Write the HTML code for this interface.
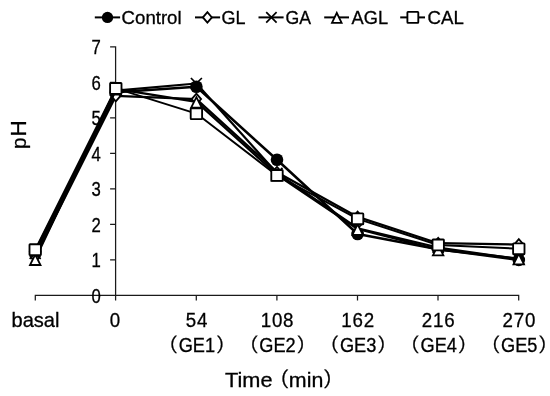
<!DOCTYPE html><html><head><meta charset="utf-8"><title>pH chart</title><style>html,body{margin:0;padding:0;background:#fff}svg{display:block}text{font-family:"Liberation Sans","IPAGothic",sans-serif;fill:#000;stroke:#000;stroke-width:0.3px}</style></head><body>
<svg width="550" height="396" viewBox="0 0 550 396">
<rect width="550" height="396" fill="#fff"/>
<path d="M34.699999999999996 295.4H519.3000000000001M35.3 295.4V300.4M115.6 295.4V300.4M196.3 295.4V300.4M276.9 295.4V300.4M357.5 295.4V300.4M438.0 295.4V300.4M518.7 295.4V300.4M115.6 46.3V300.4M110.1 295.4H115.6M110.1 259.9H115.6M110.1 224.4H115.6M110.1 188.9H115.6M110.1 153.4H115.6M110.1 117.9H115.6M110.1 82.4H115.6M110.1 46.9H115.6" stroke="#1a1a1a" stroke-width="1.25" fill="none"/>
<text transform="translate(91.40 302.5) scale(0.88 1.02)" font-size="19" letter-spacing="1.35">0</text>
<text transform="translate(91.40 267.0) scale(0.88 1.02)" font-size="19" letter-spacing="1.35">1</text>
<text transform="translate(91.40 231.5) scale(0.88 1.02)" font-size="19" letter-spacing="1.35">2</text>
<text transform="translate(91.40 196.0) scale(0.88 1.02)" font-size="19" letter-spacing="1.35">3</text>
<text transform="translate(91.40 160.5) scale(0.88 1.02)" font-size="19" letter-spacing="1.35">4</text>
<text transform="translate(91.40 125.0) scale(0.88 1.02)" font-size="19" letter-spacing="1.35">5</text>
<text transform="translate(91.40 89.5) scale(0.88 1.02)" font-size="19" letter-spacing="1.35">6</text>
<text transform="translate(91.40 54.0) scale(0.88 1.02)" font-size="19" letter-spacing="1.35">7</text>
<text x="35.5" y="326.5" font-size="20.4" text-anchor="middle" textLength="48" lengthAdjust="spacingAndGlyphs">basal</text>
<text transform="translate(109.79 326.6) scale(0.91 1.0)" font-size="20.6" letter-spacing="0.9">0</text>
<text transform="translate(185.66 326.6) scale(0.91 1.0)" font-size="20.6" letter-spacing="0.9">54</text>
<text transform="translate(260.64 326.6) scale(0.91 1.0)" font-size="20.6" letter-spacing="0.9">108</text>
<text transform="translate(341.24 326.6) scale(0.91 1.0)" font-size="20.6" letter-spacing="0.9">162</text>
<text transform="translate(421.84 326.6) scale(0.91 1.0)" font-size="20.6" letter-spacing="0.9">216</text>
<text transform="translate(502.44 326.6) scale(0.91 1.0)" font-size="20.6" letter-spacing="0.9">270</text>
<text y="352.4" font-size="19.4"><tspan x="158.8">（</tspan><tspan x="178.7" textLength="36.4" lengthAdjust="spacingAndGlyphs">GE1</tspan><tspan x="215.7">）</tspan></text>
<text y="352.4" font-size="19.4"><tspan x="239.4">（</tspan><tspan x="259.3" textLength="36.4" lengthAdjust="spacingAndGlyphs">GE2</tspan><tspan x="296.3">）</tspan></text>
<text y="352.4" font-size="19.4"><tspan x="320.0">（</tspan><tspan x="339.9" textLength="36.4" lengthAdjust="spacingAndGlyphs">GE3</tspan><tspan x="376.9">）</tspan></text>
<text y="352.4" font-size="19.4"><tspan x="400.6">（</tspan><tspan x="420.5" textLength="36.4" lengthAdjust="spacingAndGlyphs">GE4</tspan><tspan x="457.5">）</tspan></text>
<text y="352.4" font-size="19.4"><tspan x="481.2">（</tspan><tspan x="501.1" textLength="36.4" lengthAdjust="spacingAndGlyphs">GE5</tspan><tspan x="538.1">）</tspan></text>
<text y="387.2" font-size="20.6"><tspan x="225" textLength="47.5" lengthAdjust="spacingAndGlyphs">Time</tspan><tspan x="268"> </tspan><tspan x="269">（</tspan><tspan x="288.8" textLength="34.5" lengthAdjust="spacingAndGlyphs">min</tspan><tspan x="322.8">）</tspan></text>
<text transform="translate(26 149.0) rotate(-90)"><tspan font-size="20.5">p</tspan><tspan font-size="22.6" dx="1.0">H</tspan></text>
<polyline points="35.2,251.4 115.8,92.3 196.4,86.7 277.0,159.8 357.6,234.0 438.2,249.2 518.8,259.9" fill="none" stroke="#000" stroke-width="2.5" stroke-linejoin="round"/>
<circle cx="35.2" cy="251.4" r="6.3" fill="#000"/>
<circle cx="115.8" cy="92.3" r="6.3" fill="#000"/>
<circle cx="196.4" cy="86.7" r="6.3" fill="#000"/>
<circle cx="277.0" cy="159.8" r="6.3" fill="#000"/>
<circle cx="357.6" cy="234.0" r="6.3" fill="#000"/>
<circle cx="438.2" cy="249.2" r="6.3" fill="#000"/>
<circle cx="518.8" cy="259.9" r="6.3" fill="#000"/>
<polyline points="35.2,256.7 115.8,95.9 196.4,99.1 277.0,172.2 357.6,216.9 438.2,243.2 518.8,244.6" fill="none" stroke="#000" stroke-width="2.25" stroke-linejoin="round"/>
<path d="M30.5 256.7L35.2 251.2L39.9 256.7L35.2 262.2Z" fill="#fff" stroke="#000" stroke-width="1.8"/>
<path d="M111.1 95.9L115.8 90.4L120.5 95.9L115.8 101.3Z" fill="#fff" stroke="#000" stroke-width="1.8"/>
<path d="M191.7 99.1L196.4 93.6L201.1 99.1L196.4 104.5Z" fill="#fff" stroke="#000" stroke-width="1.8"/>
<path d="M272.3 172.2L277.0 166.8L281.7 172.2L277.0 177.7Z" fill="#fff" stroke="#000" stroke-width="1.8"/>
<path d="M352.9 216.9L357.6 211.5L362.3 216.9L357.6 222.4Z" fill="#fff" stroke="#000" stroke-width="1.8"/>
<path d="M433.5 243.2L438.2 237.8L442.9 243.2L438.2 248.7Z" fill="#fff" stroke="#000" stroke-width="1.8"/>
<path d="M514.1 244.6L518.8 239.2L523.5 244.6L518.8 250.1Z" fill="#fff" stroke="#000" stroke-width="1.8"/>
<polyline points="35.2,253.5 115.8,90.6 196.4,83.5 277.0,173.3 357.6,228.3 438.2,247.5 518.8,259.2" fill="none" stroke="#000" stroke-width="2.25" stroke-linejoin="round"/>
<path d="M29.7 248.0L40.7 259.0M40.7 248.0L29.7 259.0" fill="none" stroke="#000" stroke-width="1.7"/>
<path d="M110.3 85.1L121.3 96.0M121.3 85.1L110.3 96.0" fill="none" stroke="#000" stroke-width="1.7"/>
<path d="M190.9 78.0L201.9 88.9M201.9 78.0L190.9 88.9" fill="none" stroke="#000" stroke-width="1.7"/>
<path d="M271.5 167.8L282.5 178.7M282.5 167.8L271.5 178.7" fill="none" stroke="#000" stroke-width="1.7"/>
<path d="M352.1 222.8L363.1 233.8M363.1 222.8L352.1 233.8" fill="none" stroke="#000" stroke-width="1.7"/>
<path d="M432.7 242.0L443.7 252.9M443.7 242.0L432.7 252.9" fill="none" stroke="#000" stroke-width="1.7"/>
<path d="M513.3 253.7L524.3 264.6M524.3 253.7L513.3 264.6" fill="none" stroke="#000" stroke-width="1.7"/>
<polyline points="35.2,259.2 115.8,88.8 196.4,101.9 277.0,174.7 357.6,229.0 438.2,249.6 518.8,258.5" fill="none" stroke="#000" stroke-width="2.25" stroke-linejoin="round"/>
<path d="M35.2 254.5L40.5 265.0L30.0 265.0Z" fill="#fff" stroke="#000" stroke-width="1.8"/>
<path d="M115.8 84.1L121.0 94.6L110.5 94.6Z" fill="#fff" stroke="#000" stroke-width="1.8"/>
<path d="M196.4 97.2L201.7 107.7L191.2 107.7Z" fill="#fff" stroke="#000" stroke-width="1.8"/>
<path d="M277.0 170.0L282.2 180.5L271.8 180.5Z" fill="#fff" stroke="#000" stroke-width="1.8"/>
<path d="M357.6 224.3L362.9 234.8L352.4 234.8Z" fill="#fff" stroke="#000" stroke-width="1.8"/>
<path d="M438.2 244.9L443.4 255.4L432.9 255.4Z" fill="#fff" stroke="#000" stroke-width="1.8"/>
<path d="M518.8 253.8L524.0 264.3L513.5 264.3Z" fill="#fff" stroke="#000" stroke-width="1.8"/>
<polyline points="35.2,249.6 115.8,88.4 196.4,113.6 277.0,175.4 357.6,218.9 438.2,245.0 518.8,248.7" fill="none" stroke="#000" stroke-width="1.9" stroke-linejoin="round"/>
<rect x="29.5" y="244.2" width="11.4" height="10.9" rx="0.6" fill="#fff" stroke="#000" stroke-width="1.85"/>
<rect x="110.1" y="83.0" width="11.4" height="10.9" rx="0.6" fill="#fff" stroke="#000" stroke-width="1.85"/>
<rect x="190.7" y="108.2" width="11.4" height="10.9" rx="0.6" fill="#fff" stroke="#000" stroke-width="1.85"/>
<rect x="271.3" y="170.0" width="11.4" height="10.9" rx="0.6" fill="#fff" stroke="#000" stroke-width="1.85"/>
<rect x="351.9" y="213.4" width="11.4" height="10.9" rx="0.6" fill="#fff" stroke="#000" stroke-width="1.85"/>
<rect x="432.5" y="239.5" width="11.4" height="10.9" rx="0.6" fill="#fff" stroke="#000" stroke-width="1.85"/>
<rect x="513.1" y="243.3" width="11.4" height="10.9" rx="0.6" fill="#fff" stroke="#000" stroke-width="1.85"/>
<path d="M94.8 17.4H120.1" stroke="#000" stroke-width="2.0"/>
<circle cx="107.5" cy="17.4" r="5.65" fill="#000"/>
<text x="121.6" y="24.0" font-size="18.9" text-anchor="start" textLength="60" lengthAdjust="spacingAndGlyphs">Control</text>
<path d="M195 17.4H220.1" stroke="#000" stroke-width="2.0"/>
<path d="M202.9 17.4L207.4 12.2L211.9 17.4L207.4 22.6Z" fill="#fff" stroke="#000" stroke-width="1.8"/>
<text x="221.6" y="24.0" font-size="18.9" text-anchor="start" textLength="24" lengthAdjust="spacingAndGlyphs">GL</text>
<path d="M258.5 17.4H283.6" stroke="#000" stroke-width="2.0"/>
<path d="M266.2 12.2L276.6 22.6M276.6 12.2L266.2 22.6" fill="none" stroke="#000" stroke-width="1.7"/>
<text x="285.6" y="24.0" font-size="18.9" text-anchor="start" textLength="25.5" lengthAdjust="spacingAndGlyphs">GA</text>
<path d="M324.2 17.4H349" stroke="#000" stroke-width="2.0"/>
<path d="M336.8 12.9L341.6 22.9L332.0 22.9Z" fill="#fff" stroke="#000" stroke-width="1.8"/>
<text x="351.6" y="24.0" font-size="18.9" text-anchor="start" textLength="36.5" lengthAdjust="spacingAndGlyphs">AGL</text>
<path d="M400.2 17.4H425" stroke="#000" stroke-width="2.0"/>
<rect x="407.4" y="11.9" width="10.9" height="10.9" rx="0.6" fill="#fff" stroke="#000" stroke-width="1.85"/>
<text x="427.5" y="24.0" font-size="18.9" text-anchor="start" textLength="36.3" lengthAdjust="spacingAndGlyphs">CAL</text>
</svg></body></html>
